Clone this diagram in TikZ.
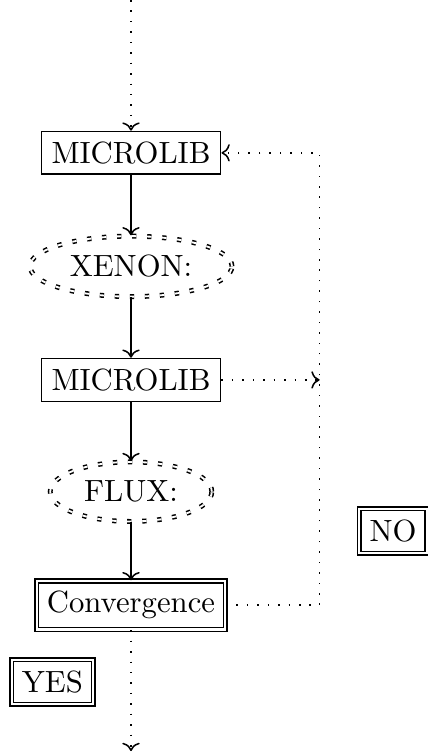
\documentclass[tikz,border=0pt]{standalone}
\usepackage{tikz}
\usetikzlibrary{arrows.meta,shapes.geometric}

\begin{document}
\begin{tikzpicture}[x=1cm,y=1cm,line width=0.5pt,
  box/.style={draw,rectangle},
  dbox/.style={draw,rectangle,double,double distance=0.7pt,minimum height=14.5pt},
  oval/.style={draw,ellipse,double,dash pattern=on 1.4pt off 3.5pt},
  flow/.style={->},
  loop/.style={->,dash pattern=on 0.5pt off 2.9pt}]
\useasboundingbox (0,0) rectangle (4.89,-8.645);
\coordinate (top) at (1.50,0.00);
\node[box] (lib1) at (1.50,-1.75) {MICROLIB};
\node[oval] (xenon) at (1.50,-3.05) {XENON:};
\node[box] (lib2) at (1.50,-4.35) {MICROLIB};
\node[oval] (flux) at (1.50,-5.63) {FLUX:};
\node[dbox] (conv) at (1.50,-6.93) {Convergence};
\node[dbox] (yes) at (0.60,-7.81) {YES};
\node[dbox] (no) at (4.50,-6.08) {NO};
\coordinate (back) at (3.66,-4.35);
\coordinate (bot) at (1.50,-8.60);
\draw[loop] (top) -- (lib1);
\draw[flow] (lib1) -- (xenon);
\draw[flow] (xenon) -- (lib2);
\draw[flow] (lib2) -- (flux);
\draw[flow] (flux) -- (conv);
\draw[loop] (conv) -- (bot);
\draw[loop] (lib2) -- (back);
\draw[loop] (conv) -| (back) |- (lib1);
\end{tikzpicture}
\end{document}
